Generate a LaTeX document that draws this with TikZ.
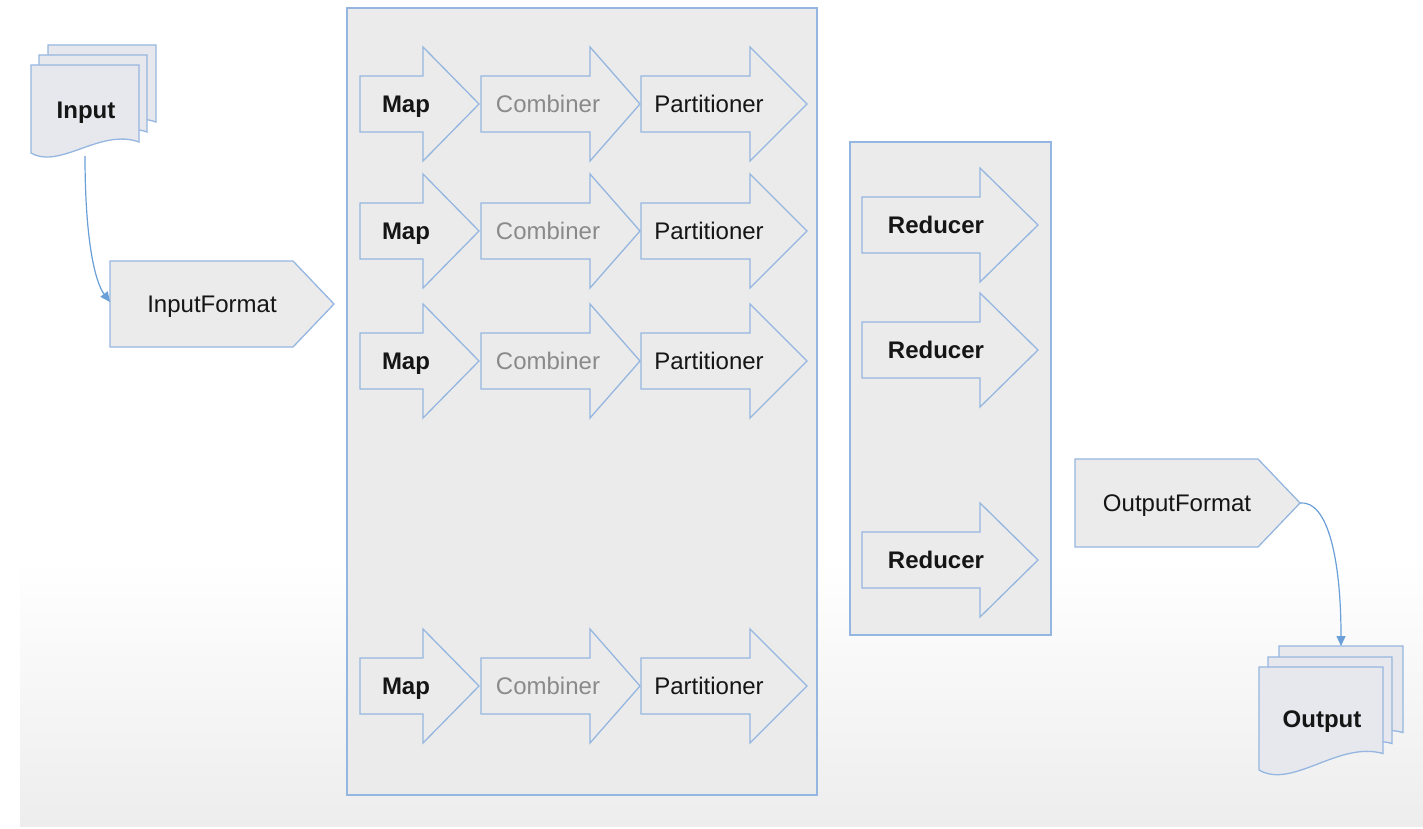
\documentclass[tikz,border=0pt]{standalone}
\usepackage{fontspec}
\setmainfont{Liberation Sans}
\usetikzlibrary{arrows.meta}
\definecolor{bordc}{HTML}{95B6E0}
\definecolor{linec}{HTML}{6A9FD8}
\definecolor{shapefill}{HTML}{EBEBEB}
\definecolor{docfill}{HTML}{E6E8EE}
\definecolor{combc}{HTML}{8A8A8A}
\definecolor{txt}{HTML}{151515}
\tikzset{
  shp/.style={draw=bordc, fill=shapefill, line width=1.3pt, line join=miter},
  docst/.style={draw=bordc, fill=docfill, line width=1.3pt},
  lbl/.style={font=\fontsize{24}{28}\selectfont, text=txt, inner sep=0pt, anchor=base},
  boldlbl/.style={lbl, font=\fontsize{24}{28}\selectfont\bfseries},
  comb/.style={lbl, text=combc},
  conn/.style={draw=linec, line width=1.2pt, -{Triangle[length=10pt,width=9pt]}},
}
\newcommand\bigarr[4]{%
  \filldraw[shp] (#1,{#4-28}) -- (#2,{#4-28}) -- (#2,{#4-57}) -- (#3,#4) -- (#2,{#4+57}) -- (#2,{#4+28}) -- (#1,{#4+28}) -- cycle;}
\newcommand\docshape[5]{%
  \filldraw[docst] (#1,#2) -- ({#1+#3},#2) -- ({#1+#3},{#2+#5*#4}) .. controls ({#1+0.64*#3},{#2+0.716*#4}) and ({#1+0.27*#3},{#2+1.19*#4}) .. (#1,{#2+#4}) -- cycle;}
\begin{document}
\begin{tikzpicture}[x=1pt,y=-1pt]
\useasboundingbox (0,0) rectangle (1423,829);
\fill[white] (0,0) rectangle (1423,829);
\shade[top color=white, bottom color=black!7] (20,560) rectangle (1423,826);

% containers
\filldraw[shp] (347,8) rectangle (817,795);
\filldraw[shp] (850,142) rectangle (1051,635);

% map rows
\foreach \y [count=\i] in {104,231,361,686} {
  \bigarr{360}{423}{479}{\y}
  \bigarr{481}{590}{640}{\y}
  \bigarr{641}{750}{807}{\y}
  \node[boldlbl] (map\i) at (406,{\y+8.5}) {Map};
  \node[comb] (comb\i) at (548,{\y+8.5}) {Combiner};
  \node[lbl] (part\i) at (709,{\y+8.5}) {Partitioner};
}

% reducers
\foreach \y [count=\i] in {225,350,560} {
  \bigarr{862}{980}{1038}{\y}
  \node[boldlbl] (red\i) at (936,{\y+8.5}) {Reducer};
}

% input format
\filldraw[shp] (110,261) -- (293,261) -- (334,304) -- (293,347) -- (110,347) -- cycle;
\node[lbl] (infmt) at (212,{304+8.5}) {InputFormat};

% output format
\filldraw[shp] (1075,459) -- (1258,459) -- (1300,503) -- (1258,547) -- (1075,547) -- cycle;
\node[lbl] (outfmt) at (1177,{503+8.5}) {OutputFormat};

% input documents
\docshape{48}{45}{108}{88}{0.875}
\docshape{39}{55}{108}{88}{0.875}
\docshape{31}{65}{108}{88}{0.875}
\node[boldlbl] (input) at (86,{110+8.5}) {Input};

% output documents
\docshape{1279}{646}{124}{103}{0.84}
\docshape{1268}{657}{124}{103}{0.84}
\docshape{1259}{667}{124}{103}{0.84}
\node[boldlbl] (output) at (1322,{719+8.5}) {Output};

% connectors
\coordinate (inbot) at (85,156);
\coordinate (infmtleft) at (110,302);
\draw[conn] (inbot) .. controls (85,240) and (95,282) .. (infmtleft);
\coordinate (outfmttip) at (1300,503);
\coordinate (outtop) at (1341,646);
\draw[conn] (outfmttip) .. controls (1328,500) and (1341,560) .. (outtop);
\end{tikzpicture}
\end{document}
